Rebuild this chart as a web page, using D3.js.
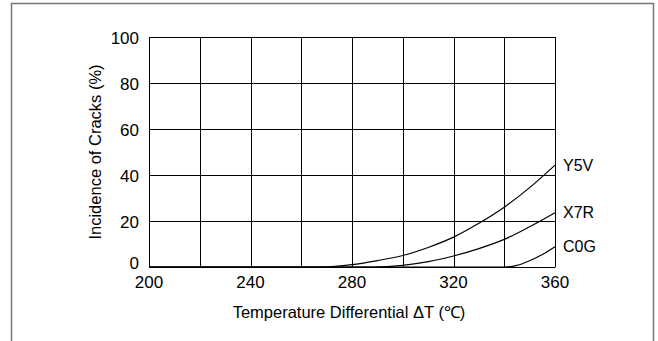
<!DOCTYPE html>
<html>
<head>
<meta charset="utf-8">
<script src="https://cdn.jsdelivr.net/npm/d3@7"></script>
<style>
  body { margin: 0; background: #fff; }
  text { font-family: "Liberation Sans", Arial, sans-serif; fill: #000; }
</style>
</head>
<body>
<script>
// chart size
var width = 658, height = 341;

// plot area
var plotLeft = 149, plotTop = 37, plotRight = 555, plotBottom = 267;

// data
var xTicks = [200, 240, 280, 320, 360];
var yTicks = [0, 20, 40, 60, 80, 100];
var y5vT = [200, 268, 280, 290, 300, 310, 320, 330, 340, 350, 360];
var y5vV = [0, 0, 1, 2.8, 5, 8.5, 13, 19, 26, 34.5, 44.3];
var x7rT = [200, 288, 300, 310, 320, 330, 340, 350, 360];
var x7rV = [0, 0, 0.7, 2.3, 4.8, 8, 12, 17.5, 23.6];
var c0gT = [200, 340, 345, 350, 355, 360];
var c0gV = [0, 0, 0.7, 2.7, 5.4, 8.8];
var seriesNames = ['Y5V', 'X7R', 'C0G'];

var svg = d3.select('body').append('svg')
  .attr('width', width)
  .attr('height', height);

// outer frame (bottom edge runs off the picture)
svg.append('path')
  .attr('d', 'M11.5,' + (height + 2) + 'V3.5H653.5V' + (height + 2))
  .attr('fill', 'none')
  .attr('stroke', '#777')
  .attr('stroke-width', 1.5);

var x = d3.scaleLinear().domain([200, 360]).range([plotLeft, plotRight]);
var y = d3.scaleLinear().domain([0, 100]).range([plotBottom, plotTop]);

// grid lines every 20
var g = svg.append('g');
g.selectAll('.vx')
  .data(d3.range(200, 361, 20))
  .enter().append('line')
  .attr('x1', function(d) { return Math.round(x(d)) + 0.5; })
  .attr('x2', function(d) { return Math.round(x(d)) + 0.5; })
  .attr('y1', plotTop).attr('y2', plotBottom)
  .attr('stroke', '#000');
g.selectAll('.hy')
  .data(yTicks)
  .enter().append('line')
  .attr('y1', function(d) { return Math.round(y(d)) + 0.5; })
  .attr('y2', function(d) { return Math.round(y(d)) + 0.5; })
  .attr('x1', plotLeft).attr('x2', plotRight + 0.5)
  .attr('stroke', '#000');

// tick labels
svg.selectAll('.xl')
  .data(xTicks)
  .enter().append('text')
  .attr('x', function(d) { return x(d); })
  .attr('y', plotBottom + 21)
  .attr('text-anchor', 'middle')
  .attr('font-size', 17)
  .text(function(d) { return d; });

svg.selectAll('.yl')
  .data(yTicks)
  .enter().append('text')
  .attr('x', plotLeft - 10)
  .attr('y', function(d) { return Math.min(y(d) + 6.5, plotBottom + 2); })
  .attr('text-anchor', 'end')
  .attr('font-size', 17)
  .text(function(d) { return d; });

// axis titles
svg.append('text')
  .attr('x', 349)
  .attr('y', 318)
  .attr('text-anchor', 'middle')
  .attr('font-size', 16.5)
  .text('Temperature Differential \u0394T (\u2103)');

svg.append('text')
  .attr('transform', 'translate(101,' + ((plotTop + plotBottom) / 2) + ') rotate(-90)')
  .attr('text-anchor', 'middle')
  .attr('font-size', 16.5)
  .text('Incidence of Cracks (%)');

// curves
var line = d3.line()
  .x(function(d) { return x(d[0]); })
  .y(function(d) { return y(d[1]); })
  .curve(d3.curveMonotoneX);

var series = [d3.zip(y5vT, y5vV), d3.zip(x7rT, x7rV), d3.zip(c0gT, c0gV)];

svg.selectAll('.curve')
  .data(series)
  .enter().append('path')
  .attr('d', line)
  .attr('fill', 'none')
  .attr('stroke', '#000')
  .attr('stroke-width', 1.2);

// series labels at the right end
var labelY = [y5vV[y5vV.length - 1], x7rV[x7rV.length - 1], c0gV[c0gV.length - 1]];
svg.selectAll('.sl')
  .data(seriesNames)
  .enter().append('text')
  .attr('x', plotRight + 8)
  .attr('y', function(d, i) { return y(labelY[i]) + 5.5; })
  .attr('font-size', 16)
  .text(function(d) { return d; });
</script>
</body>
</html>
